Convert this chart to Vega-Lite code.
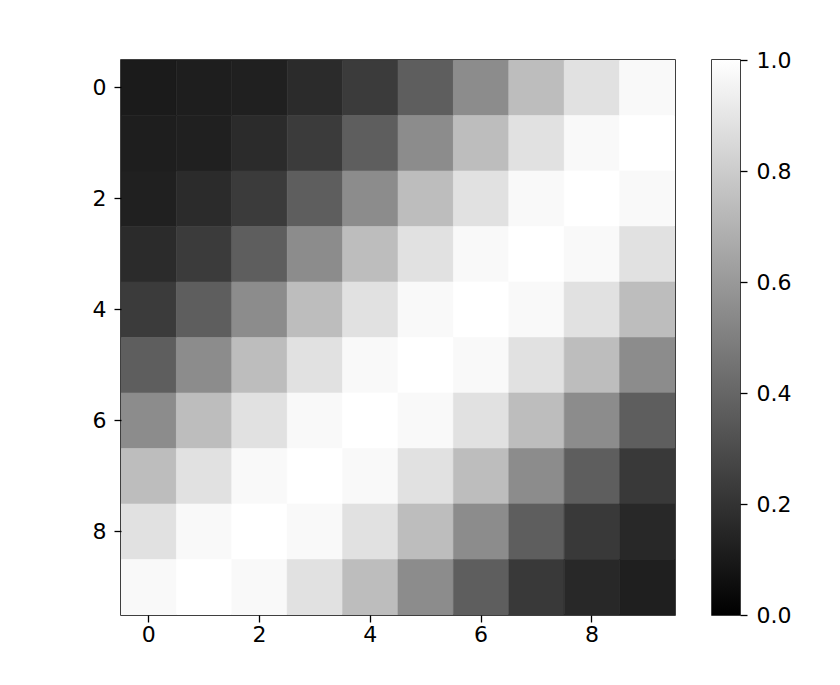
{
"$schema": "https://vega.github.io/schema/vega-lite/v6.json",
"padding": {"left": 91, "top": 48, "right": 5, "bottom": 5},
"background": "white",
"config": {
 "view": {"stroke": "black", "strokeWidth": 1.5},
 "axis": {"labelFont": "DejaVu Sans", "labelFontSize": 22, "labelColor": "black", "tickColor": "black", "tickSize": 7, "tickWidth": 1.3, "domain": false, "grid": false, "title": null},
 "concat": {"spacing": 35}
},
"hconcat": [
 {
  "width": 554, "height": 555,
  "data": {"values": [
{"r":0,"c":0,"v":0.106},{"r":0,"c":1,"v":0.118},{"r":0,"c":2,"v":0.125},{"r":0,"c":3,"v":0.169},{"r":0,"c":4,"v":0.231},{"r":0,"c":5,"v":0.369},{"r":0,"c":6,"v":0.549},{"r":0,"c":7,"v":0.741},{"r":0,"c":8,"v":0.882},{"r":0,"c":9,"v":0.976},
{"r":1,"c":0,"v":0.118},{"r":1,"c":1,"v":0.125},{"r":1,"c":2,"v":0.169},{"r":1,"c":3,"v":0.231},{"r":1,"c":4,"v":0.369},{"r":1,"c":5,"v":0.549},{"r":1,"c":6,"v":0.741},{"r":1,"c":7,"v":0.882},{"r":1,"c":8,"v":0.976},{"r":1,"c":9,"v":1.0},
{"r":2,"c":0,"v":0.125},{"r":2,"c":1,"v":0.169},{"r":2,"c":2,"v":0.231},{"r":2,"c":3,"v":0.369},{"r":2,"c":4,"v":0.549},{"r":2,"c":5,"v":0.741},{"r":2,"c":6,"v":0.882},{"r":2,"c":7,"v":0.976},{"r":2,"c":8,"v":1.0},{"r":2,"c":9,"v":0.976},
{"r":3,"c":0,"v":0.169},{"r":3,"c":1,"v":0.231},{"r":3,"c":2,"v":0.369},{"r":3,"c":3,"v":0.549},{"r":3,"c":4,"v":0.741},{"r":3,"c":5,"v":0.882},{"r":3,"c":6,"v":0.976},{"r":3,"c":7,"v":1.0},{"r":3,"c":8,"v":0.976},{"r":3,"c":9,"v":0.882},
{"r":4,"c":0,"v":0.231},{"r":4,"c":1,"v":0.369},{"r":4,"c":2,"v":0.549},{"r":4,"c":3,"v":0.741},{"r":4,"c":4,"v":0.882},{"r":4,"c":5,"v":0.976},{"r":4,"c":6,"v":1.0},{"r":4,"c":7,"v":0.976},{"r":4,"c":8,"v":0.882},{"r":4,"c":9,"v":0.741},
{"r":5,"c":0,"v":0.369},{"r":5,"c":1,"v":0.549},{"r":5,"c":2,"v":0.741},{"r":5,"c":3,"v":0.882},{"r":5,"c":4,"v":0.976},{"r":5,"c":5,"v":1.0},{"r":5,"c":6,"v":0.976},{"r":5,"c":7,"v":0.882},{"r":5,"c":8,"v":0.741},{"r":5,"c":9,"v":0.549},
{"r":6,"c":0,"v":0.549},{"r":6,"c":1,"v":0.741},{"r":6,"c":2,"v":0.882},{"r":6,"c":3,"v":0.976},{"r":6,"c":4,"v":1.0},{"r":6,"c":5,"v":0.976},{"r":6,"c":6,"v":0.882},{"r":6,"c":7,"v":0.741},{"r":6,"c":8,"v":0.549},{"r":6,"c":9,"v":0.369},
{"r":7,"c":0,"v":0.741},{"r":7,"c":1,"v":0.882},{"r":7,"c":2,"v":0.976},{"r":7,"c":3,"v":1.0},{"r":7,"c":4,"v":0.976},{"r":7,"c":5,"v":0.882},{"r":7,"c":6,"v":0.741},{"r":7,"c":7,"v":0.549},{"r":7,"c":8,"v":0.369},{"r":7,"c":9,"v":0.224},
{"r":8,"c":0,"v":0.882},{"r":8,"c":1,"v":0.976},{"r":8,"c":2,"v":1.0},{"r":8,"c":3,"v":0.976},{"r":8,"c":4,"v":0.882},{"r":8,"c":5,"v":0.741},{"r":8,"c":6,"v":0.549},{"r":8,"c":7,"v":0.369},{"r":8,"c":8,"v":0.224},{"r":8,"c":9,"v":0.157},
{"r":9,"c":0,"v":0.976},{"r":9,"c":1,"v":1.0},{"r":9,"c":2,"v":0.976},{"r":9,"c":3,"v":0.882},{"r":9,"c":4,"v":0.741},{"r":9,"c":5,"v":0.549},{"r":9,"c":6,"v":0.369},{"r":9,"c":7,"v":0.224},{"r":9,"c":8,"v":0.157},{"r":9,"c":9,"v":0.122}
  ]},
  "mark": {"type": "rect", "strokeWidth": 0.6, "clip": true},
  "encoding": {
   "x": {"field": "c", "type": "ordinal", "scale": {"paddingInner": 0, "paddingOuter": 0}, "axis": {"values": [0, 2, 4, 6, 8], "labelAngle": 0, "labelPadding": 2}},
   "y": {"field": "r", "type": "ordinal", "scale": {"paddingInner": 0, "paddingOuter": 0}, "axis": {"values": [0, 2, 4, 6, 8], "labelPadding": 8}},
   "color": {"field": "v", "type": "quantitative", "scale": {"domain": [0, 1], "range": ["black", "white"], "interpolate": "rgb"}, "legend": null},
   "stroke": {"field": "v", "type": "quantitative", "scale": {"domain": [0, 1], "range": ["black", "white"], "interpolate": "rgb"}, "legend": null}
  }
 },
 {
  "width": 28, "height": 555,
  "data": {"values": [{"lo": 0, "hi": 1}]},
  "mark": {"type": "rect", "strokeWidth": 0, "fill": {"gradient": "linear", "x1": 0, "y1": 1, "x2": 0, "y2": 0, "stops": [{"offset": 0, "color": "black"}, {"offset": 1, "color": "white"}]}},
  "encoding": {
   "x": {"value": 0},
   "x2": {"value": "width"},
   "y": {"field": "lo", "type": "quantitative", "scale": {"domain": [0, 1], "nice": false}, "axis": {"orient": "right", "values": [0, 0.2, 0.4, 0.6, 0.8, 1], "format": ".1f", "labelPadding": 9}},
   "y2": {"field": "hi"}
  }
 }
]
}
